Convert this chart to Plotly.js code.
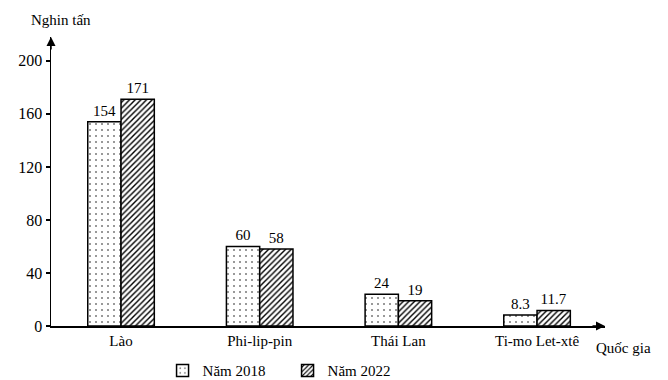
<!DOCTYPE html>
<html>
<head>
<meta charset="utf-8">
<script src="https://cdn.plot.ly/plotly-3.0.1.min.js"></script>
<style>html,body{margin:0;padding:0;background:#fff;}#chart{width:668px;height:380px;}</style>
</head>
<body>
<div id="chart"></div>
<script>
const categories = ["Lào", "Phi-lip-pin", "Thái Lan", "Ti-mo Let-xtê"];
const values2018 = [154, 60, 24, 8.3];
const values2022 = [171, 58, 19, 11.7];
const labels2018 = ["154", "60", "24", "8.3"];
const labels2022 = ["171", "58", "19", "11.7"];
const seriesNames = ["Năm 2018", "Năm 2022"];
const yTicks = [0, 40, 80, 120, 160, 200];

const font = "Liberation Serif";

const t1 = {
  type: 'bar', x: categories, y: values2018, name: seriesNames[0],
  text: labels2018, textposition: 'outside', cliponaxis: false,
  textfont: {family: font, size: 15, color: '#000'},
  marker: {color: '#fff', line: {color: '#000', width: 1.5},
    pattern: {shape: '.', fgcolor: '#000', bgcolor: '#fff', size: 6, solidity: 0.05}}
};
const t2 = {
  type: 'bar', x: categories, y: values2022, name: seriesNames[1],
  text: labels2022, textposition: 'outside', cliponaxis: false,
  textfont: {family: font, size: 15, color: '#000'},
  marker: {color: '#fff', line: {color: '#000', width: 1.5},
    pattern: {shape: '/', fgcolor: '#000', bgcolor: '#fff', size: 4, solidity: 0.35}}
};

const layout = {
  width: 668, height: 380,
  margin: {l: 51, r: 63, t: 37, b: 54, autoexpand: false},
  paper_bgcolor: '#fff', plot_bgcolor: '#fff',
  font: {family: font, size: 15, color: '#000'},
  barmode: 'group', bargap: 0.52, bargroupgap: 0,
  showlegend: true,
  legend: {orientation: 'h', x: 0.427, xanchor: 'center', y: -0.155, yanchor: 'middle',
    entrywidth: 80, entrywidthmode: 'pixels',
    font: {family: font, size: 15, color: '#000'}, traceorder: 'normal'},
  xaxis: {
    range: [-0.505, 3.49], showline: true, linecolor: '#000', linewidth: 1.5,
    ticks: '', showgrid: false, zeroline: false, fixedrange: true, automargin: false,
    tickfont: {family: font, size: 15, color: '#000'}
  },
  yaxis: {
    range: [0, 218], showline: true, linecolor: '#000', linewidth: 1.5,
    ticks: 'outside', ticklen: 4, tickwidth: 1.5, tickcolor: '#000', automargin: false,
    tickvals: yTicks, showgrid: false, zeroline: false, fixedrange: true,
    tickfont: {family: font, size: 16, color: '#000'}
  },
  annotations: [
    {xref: 'paper', yref: 'paper', x: 0, y: 1, ax: 0, ay: 14,
     text: '', showarrow: true, arrowhead: 2, arrowsize: 1.2, arrowwidth: 1.5, arrowcolor: '#000'},
    {xref: 'paper', yref: 'paper', x: 1, y: 0, ax: -14, ay: 0,
     text: '', showarrow: true, arrowhead: 2, arrowsize: 1.2, arrowwidth: 1.5, arrowcolor: '#000'},
    {xref: 'paper', yref: 'paper', x: -0.04, y: 1.059, xanchor: 'left', yanchor: 'middle',
     text: 'Nghin tấn', showarrow: false, font: {family: font, size: 15, color: '#000'}},
    {xref: 'paper', yref: 'paper', x: 0.98, y: -0.076, xanchor: 'left', yanchor: 'middle',
     text: 'Quốc gia', showarrow: false, font: {family: font, size: 15, color: '#000'}}
  ]
};

Plotly.newPlot('chart', [t1, t2], layout, {displayModeBar: false, staticPlot: true});
</script>
</body>
</html>
